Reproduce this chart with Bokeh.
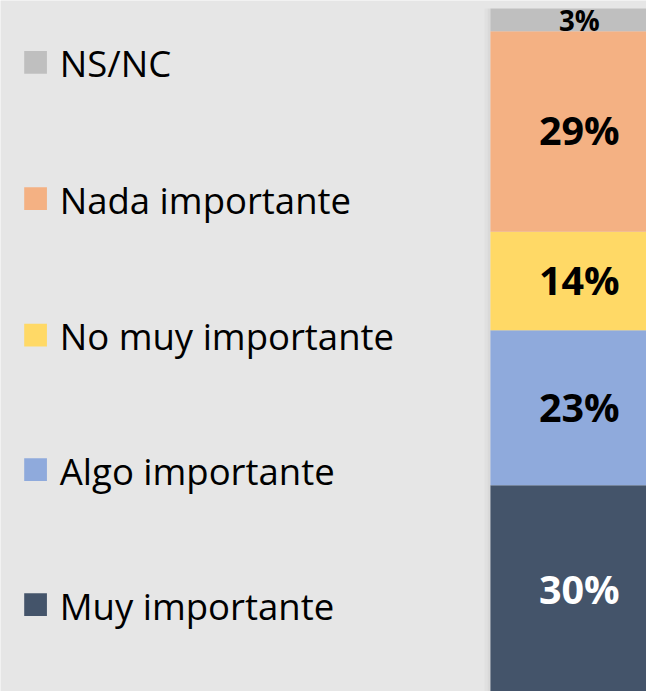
from bokeh.plotting import figure
from bokeh.models import Range1d, ColumnDataSource
from bokeh.core.properties import value
from bokeh.embed import file_html
from bokeh.resources import INLINE

# ---- data (bottom to top of the stacked bar) ----
categories = ["Muy importante", "Algo importante", "No muy importante", "Nada importante", "NS/NC"]
values = [30.4, 22.5, 14.3, 29.1, 3.3]
labels = ["30%", "23%", "14%", "29%", "3%"]
colors = ["#44546a", "#8faadc", "#ffd966", "#f4b183", "#bfbfbf"]
label_colors = ["#ffffff", "#000000", "#000000", "#000000", "#000000"]

# ---- layout (design space = 654 x 699 reference pixels) ----
REF_W, REF_H = 654, 699
W, H = 646, 691
S = W / REF_W
PX_PER_PCT = 6.97
TOP_PAD = 8
BAR_X, BAR_W = 586, 180
BG = "#e6e6e6"

total = sum(values)
tops, bottoms, mids = [], [], []
acc = 0.0
for v in values:
    bottoms.append(acc)
    acc += v
    tops.append(acc)
    mids.append(acc - v / 2)
label_y = list(mids)
label_y[-1] -= 1.5 / PX_PER_PCT  # keep the small top label inside the frame

y_top = total + TOP_PAD / PX_PER_PCT
p = figure(width=W, height=H, output_backend="svg", toolbar_location=None,
           x_range=Range1d(0, REF_W), y_range=Range1d(y_top - REF_H / PX_PER_PCT, y_top),
           min_border=0, outline_line_color=None,
           background_fill_color=BG, border_fill_color=BG)
p.xaxis.visible = False
p.yaxis.visible = False
p.grid.visible = False
p.extra_y_ranges = {"px": Range1d(REF_H, 0)}

# subtle shadow at left edge of bar
left_edge = BAR_X - BAR_W / 2
p.quad(left=[left_edge - 6], right=[left_edge - 3], bottom=[-50], top=[tops[-1]],
       fill_color="#e0e0e0", line_color=None)
p.quad(left=[left_edge - 3], right=[left_edge], bottom=[-50], top=[tops[-1]],
       fill_color="#d9d9d9", line_color=None)

fs_big = f"{40 * S:.1f}px"
fs_small = f"{28 * S:.1f}px"
src = ColumnDataSource(dict(cat=categories, bottom=bottoms, top=tops, ly=label_y,
                            color=colors, label=labels, lcolor=label_colors,
                            fsize=[fs_big, fs_big, fs_big, fs_big, fs_small]))
p.vbar(x=BAR_X, width=BAR_W, bottom="bottom", top="top", fill_color="color",
       line_color=None, source=src)
p.text(x=BAR_X, y="ly", text="label", text_color="lcolor", text_font=value("Open Sans"),
       text_font_style="bold", text_font_size="fsize", text_align="center",
       text_baseline="middle", y_offset=-1, source=src)

# legend (top to bottom: reverse order)
leg_y = [62.5, 200.5, 338.5, 474.5, 611.0]
leg_src = ColumnDataSource(dict(cat=categories[::-1], color=colors[::-1], y=leg_y))
p.rect(x=35.5, y="y", width=23, height=23, fill_color="color", line_color=None,
       source=leg_src, y_range_name="px")
p.text(x=60, y="y", text="cat", text_color="#000000", text_font=value("Open Sans"),
       text_font_size=f"{37 * S:.1f}px", text_align="left", text_baseline="middle",
       y_offset=1, source=leg_src, y_range_name="px")

open("out.html", "w").write(file_html(p, INLINE))
